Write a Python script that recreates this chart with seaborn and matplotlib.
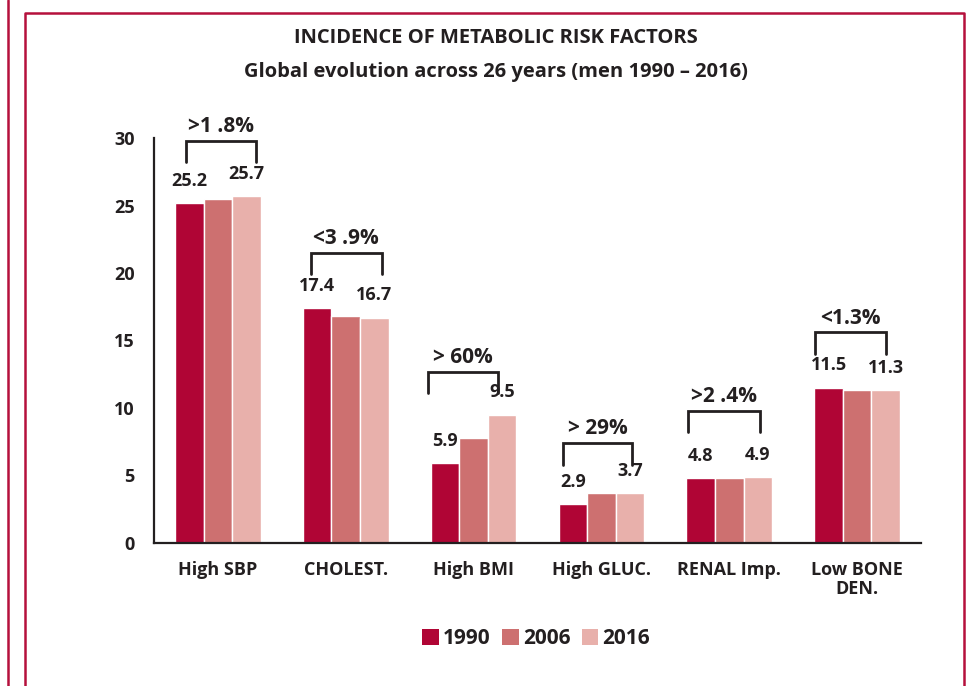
import matplotlib
matplotlib.use("Agg")

import matplotlib.pyplot as plt
import pandas as pd
import seaborn as sns
from matplotlib.lines import Line2D
from matplotlib.patches import Patch

sns.set_style("white")
plt.rcParams['font.family'] = ['Open Sans', 'DejaVu Sans']

categories = ['High SBP', 'CHOLEST.', 'High BMI', 'High GLUC.', 'RENAL Imp.', 'Low BONE\nDEN.']
years = ['1990', '2006', '2016']
values_1990 = [25.2, 17.4, 5.9, 2.9, 4.8, 11.5]
values_2006 = [25.5, 16.8, 7.8, 3.7, 4.8, 11.3]
values_2016 = [25.7, 16.7, 9.5, 3.7, 4.9, 11.3]
change_labels = ['>1 .8%', '<3 .9%', '> 60%', '> 29%', '>2 .4%', '<1.3%']

# bracket layout (data units)
bracket_top = [29.8, 21.5, 12.7, 7.4, 9.8, 15.6]
bracket_left = [-0.25, -0.27, -0.36, -0.30, -0.32, -0.33]
bracket_right = [0.30, 0.28, 0.19, 0.24, 0.24, 0.23]

palette = ['#B00535', '#CD7070', '#E8B0AB']
text_col = '#231F20'
frame_col = '#B5103C'

df = pd.DataFrame({
    'category': categories * 3,
    'year': [y for y in years for _ in categories],
    'value': values_1990 + values_2006 + values_2016,
})

fig = plt.figure(figsize=(9.66, 6.86), dpi=100)
ax = fig.add_axes([0.1594, 0.2085, 0.794, 0.5903])

sns.barplot(
    data=df,
    x='category',
    y='value',
    hue='year',
    palette=palette,
    width=0.67,
    saturation=1,
    legend=False,
    ax=ax
)

ax.set_xlim(-0.5, 5.5)
ax.set_ylim(0, 30)
ax.set_xlabel('')
ax.set_ylabel('')

for s in ['top', 'right']:
    ax.spines[s].set_visible(False)
for s in ['left', 'bottom']:
    ax.spines[s].set_linewidth(1.6)
    ax.spines[s].set_color(text_col)

ax.set_yticks([0, 5, 10, 15, 20, 25, 30])
ax.tick_params(axis='y', length=5, width=1.6, color=text_col, labelsize=13,
               labelcolor=text_col, pad=9)
ax.set_xticks(range(6))
ax.set_xticklabels(categories, fontweight='bold', linespacing=1.05)
ax.tick_params(axis='x', length=0, labelsize=13, labelcolor=text_col, pad=13)
ax.set_xticks([i - 0.5 for i in range(7)], minor=True)
ax.tick_params(axis='x', which='minor', length=8, width=1.6, color=text_col)
for lab in ax.get_yticklabels():
    lab.set_fontweight('bold')

off = 0.223
for i in range(6):
    ax.text(i - off, values_1990[i] + 1.65, f"{values_1990[i]:.1f}", ha='center', va='center',
            fontsize=13, fontweight='bold', color=text_col)
    ax.text(i + off, values_2016[i] + 1.65, f"{values_2016[i]:.1f}", ha='center', va='center',
            fontsize=13, fontweight='bold', color=text_col)
    xl, xr = i + bracket_left[i], i + bracket_right[i]
    top = bracket_top[i]
    ax.plot([xl, xl, xr, xr], [top - 1.6, top, top, top - 1.6], color=text_col,
            lw=2, clip_on=False, solid_joinstyle='miter')
    ax.text((xl + xr) / 2, top + 1.05, change_labels[i], ha='center', va='center',
            fontsize=15, fontweight='bold', color=text_col, clip_on=False)

fig.text(0.513, 0.944, 'INCIDENCE OF METABOLIC RISK FACTORS', ha='center', va='center',
         fontsize=14.5, fontweight='bold', color=text_col)
fig.text(0.513, 0.895, 'Global evolution across 26 years (men 1990 \u2013 2016)', ha='center',
         va='center', fontsize=14.5, fontweight='bold', color=text_col)

handles = [Patch(facecolor=c, edgecolor='none') for c in palette]
fig.legend(handles, years, loc='center', bbox_to_anchor=(0.555, 0.069), ncol=3,
           frameon=False, prop={'size': 15, 'weight': 'bold'}, handlelength=0.8,
           handleheight=0.8, handletextpad=0.2, columnspacing=0.55, labelcolor=text_col)

# red frame lines
fig.add_artist(Line2D([8 / 966, 8 / 966], [0, 1], transform=fig.transFigure, color=frame_col, lw=1.8))
fig.add_artist(Line2D([25 / 966, 25 / 966, 964 / 966, 964 / 966], [0, 1 - 13 / 686, 1 - 13 / 686, 0],
                      transform=fig.transFigure, color=frame_col, lw=1.8))

fig.savefig('out.png', dpi=100)
